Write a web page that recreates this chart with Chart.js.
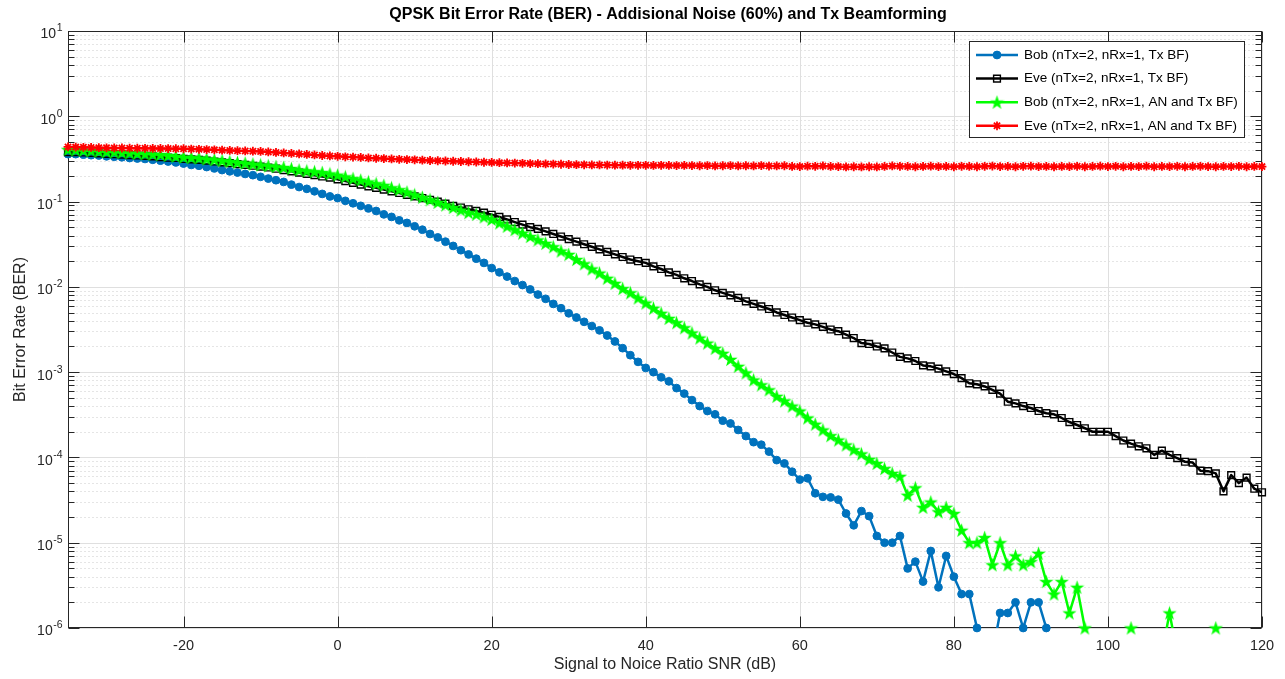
<!DOCTYPE html>
<html>
<head>
<meta charset="utf-8">
<title>QPSK BER</title>
<script src="https://cdn.jsdelivr.net/npm/chart.js@4.4.0/dist/chart.umd.min.js"></script>
<style>
  html, body { margin: 0; padding: 0; background: #fff; }
  #wrap { width: 1285px; height: 679px; }
</style>
</head>
<body>
<div id="wrap"><canvas id="berChart" width="1285" height="679"></canvas></div>
<script>
// SNR axis (dB), one point per dB
const snr = [
  -35, -34, -33, -32, -31, -30, -29, -28, -27, -26,
  -25, -24, -23, -22, -21, -20, -19, -18, -17, -16,
  -15, -14, -13, -12, -11, -10, -9, -8, -7, -6,
  -5, -4, -3, -2, -1, 0, 1, 2, 3, 4,
  5, 6, 7, 8, 9, 10, 11, 12, 13, 14,
  15, 16, 17, 18, 19, 20, 21, 22, 23, 24,
  25, 26, 27, 28, 29, 30, 31, 32, 33, 34,
  35, 36, 37, 38, 39, 40, 41, 42, 43, 44,
  45, 46, 47, 48, 49, 50, 51, 52, 53, 54,
  55, 56, 57, 58, 59, 60, 61, 62, 63, 64,
  65, 66, 67, 68, 69, 70, 71, 72, 73, 74,
  75, 76, 77, 78, 79, 80, 81, 82, 83, 84,
  85, 86, 87, 88, 89, 90, 91, 92, 93, 94,
  95, 96, 97, 98, 99, 100, 101, 102, 103, 104,
  105, 106, 107, 108, 109, 110, 111, 112, 113, 114,
  115, 116, 117, 118, 119, 120
];

// Bob, Tx beamforming only
const berBobBF = [
  0.36, 0.36, 0.355, 0.35, 0.347, 0.339, 0.335, 0.331, 0.324, 0.32,
  0.316, 0.309, 0.302, 0.295, 0.288, 0.279, 0.269, 0.263, 0.254, 0.245,
  0.234, 0.226, 0.219, 0.211, 0.204, 0.195, 0.186, 0.178, 0.17, 0.158,
  0.148, 0.141, 0.132, 0.123, 0.115, 0.11, 0.102, 0.0955, 0.0891, 0.0832,
  0.0776, 0.0708, 0.0661, 0.0603, 0.0562, 0.0513, 0.0468, 0.0417, 0.038, 0.0339,
  0.0302, 0.0269, 0.024, 0.0214, 0.0191, 0.0166, 0.0148, 0.0132, 0.0117, 0.0105,
  0.00933, 0.00813, 0.00724, 0.00631, 0.00562, 0.0049, 0.00437, 0.00389, 0.00347, 0.00309,
  0.00269, 0.00229, 0.00191, 0.00158, 0.00132, 0.00112, 0.001, 0.00087, 0.00078, 0.00065,
  5.6e-4, 4.7e-4, 4.0e-4, 3.5e-4, 3.2e-4, 2.7e-4, 2.5e-4, 2.1e-4, 1.78e-4, 1.51e-4,
  1.41e-4, 1.17e-4, 9.3e-5, 8.5e-5, 6.8e-5, 5.5e-5, 5.7e-5, 3.8e-5, 3.45e-5, 3.4e-5,
  3.2e-5, 2.2e-5, 1.6e-5, 2.35e-5, 2.05e-5, 1.2e-5, 1.0e-5, 1.0e-5, 1.2e-5, 5.0e-6,
  6.0e-6, 3.5e-6, 8.0e-6, 3.0e-6, 7.0e-6, 4.0e-6, 2.5e-6, 2.5e-6, 1.0e-6, 5e-7,
  5e-7, 1.5e-6, 1.5e-6, 2e-6, 1e-6, 2e-6, 2e-6, 1e-6, null, null,
  null, null, null, null, null, null, null, null, null, null,
  null, null, null, null, null, null, null, null, null, null,
  null, null, null, null, null, null
];

// Eve, Tx beamforming only
const berEveBF = [
  0.38, 0.38, 0.376, 0.372, 0.367, 0.363, 0.359, 0.355, 0.351, 0.347,
  0.343, 0.339, 0.331, 0.327, 0.324, 0.316, 0.313, 0.309, 0.302, 0.295,
  0.288, 0.282, 0.275, 0.269, 0.263, 0.257, 0.251, 0.243, 0.234, 0.226,
  0.219, 0.211, 0.204, 0.197, 0.191, 0.182, 0.174, 0.166, 0.158, 0.151,
  0.145, 0.138, 0.132, 0.126, 0.12, 0.115, 0.11, 0.105, 0.1, 0.0944,
  0.0891, 0.0851, 0.0813, 0.0776, 0.0741, 0.07, 0.0661, 0.0617, 0.0575, 0.0537,
  0.0501, 0.0479, 0.0447, 0.0417, 0.0389, 0.0363, 0.0339, 0.0316, 0.0295, 0.0275,
  0.0257, 0.024, 0.0224, 0.0209, 0.02, 0.0191, 0.0174, 0.0162, 0.0148, 0.0138,
  0.0126, 0.0117, 0.0107, 0.01, 0.00912, 0.00851, 0.00794, 0.00741, 0.00676, 0.00631,
  0.00589, 0.0055, 0.00501, 0.00468, 0.00437, 0.00407, 0.0038, 0.00363, 0.00339, 0.00316,
  0.00302, 0.00275, 0.00251, 0.00219, 0.00214, 0.002, 0.0019, 0.0017, 0.00151, 0.00145,
  0.00135, 0.0012, 0.00117, 0.0011, 0.00102, 0.00095, 0.00085, 0.00074, 0.00072, 0.00068,
  0.00062, 0.00056, 0.00045, 0.00043, 0.0004, 0.00038, 0.00035, 0.00033, 0.00032, 0.00029,
  0.00026, 0.00024, 0.00022, 0.0002, 0.0002, 0.0002, 0.000178, 0.000158, 0.000145, 0.000135,
  0.000128, 0.000107, 0.00012, 0.000107, 0.000098, 0.000089, 0.000087, 0.00007, 0.000069, 0.000065,
  0.00004, 0.000062, 0.00005, 0.000058, 0.000043, 0.000039
];

// Bob, artificial noise + Tx beamforming
const berBobAN = [
  0.407, 0.403, 0.398, 0.394, 0.389, 0.385, 0.38, 0.376, 0.372, 0.367,
  0.363, 0.359, 0.355, 0.347, 0.339, 0.331, 0.327, 0.324, 0.316, 0.309,
  0.302, 0.295, 0.288, 0.282, 0.275, 0.269, 0.263, 0.257, 0.251, 0.243,
  0.234, 0.229, 0.224, 0.219, 0.211, 0.204, 0.195, 0.186, 0.178, 0.17,
  0.162, 0.155, 0.145, 0.138, 0.129, 0.12, 0.112, 0.105, 0.0977, 0.0912,
  0.0851, 0.0794, 0.0741, 0.0708, 0.0661, 0.0617, 0.0562, 0.0513, 0.0468, 0.0427,
  0.0389, 0.0355, 0.0324, 0.0295, 0.0263, 0.024, 0.0209, 0.0186, 0.0162, 0.0145,
  0.0126, 0.011, 0.00955, 0.00851, 0.00741, 0.00646, 0.00562, 0.0049, 0.00427, 0.0038,
  0.00331, 0.00288, 0.00251, 0.00219, 0.0019, 0.00166, 0.00141, 0.00117, 0.00098, 0.00081,
  0.00071, 0.00062, 0.00052, 0.00046, 0.0004, 0.00035, 0.00029, 0.000245, 0.00021, 0.00018,
  0.00016, 0.00014, 0.000123, 0.00011, 0.000095, 0.000085, 0.000074, 0.000065, 0.00006, 0.000036,
  0.000044, 0.000026, 0.00003, 0.000023, 0.000026, 0.000022, 0.000014, 0.00001, 0.00001, 0.0000115,
  0.0000055, 0.00001, 0.0000055, 0.000007, 0.0000055, 0.000006, 0.0000075, 0.0000035, 0.0000025, 0.0000035,
  0.0000015, 0.000003, 0.000001, null, null, null, null, null, 0.000001, null,
  null, null, 5e-7, 0.0000015, 5e-7, null, null, null, null, 0.000001,
  null, null, null, null, null, null
];

// Eve, artificial noise + Tx beamforming
const berEveAN = [
  0.437, 0.435, 0.433, 0.431, 0.429, 0.427, 0.426, 0.425, 0.423, 0.422,
  0.421, 0.42, 0.419, 0.418, 0.417, 0.416, 0.413, 0.41, 0.407, 0.404,
  0.401, 0.398, 0.395, 0.392, 0.39, 0.387, 0.382, 0.377, 0.372, 0.367,
  0.362, 0.357, 0.352, 0.347, 0.343, 0.339, 0.335, 0.332, 0.329, 0.325,
  0.322, 0.319, 0.316, 0.313, 0.311, 0.309, 0.306, 0.303, 0.301, 0.299,
  0.297, 0.295, 0.293, 0.291, 0.289, 0.288, 0.286, 0.284, 0.283, 0.281,
  0.279, 0.278, 0.276, 0.275, 0.274, 0.272, 0.271, 0.27, 0.269, 0.269,
  0.268, 0.267, 0.267, 0.266, 0.266, 0.266, 0.265, 0.266, 0.265, 0.264,
  0.265, 0.264, 0.263, 0.264, 0.262, 0.263, 0.264, 0.262, 0.263, 0.262,
  0.264, 0.261, 0.262, 0.263, 0.258, 0.257, 0.26, 0.259, 0.262, 0.258,
  0.257, 0.255, 0.256, 0.255, 0.256, 0.255, 0.258, 0.262, 0.259, 0.258,
  0.256, 0.258, 0.26, 0.257, 0.258, 0.256, 0.259, 0.258, 0.256, 0.259,
  0.261, 0.257, 0.258, 0.256, 0.259, 0.26, 0.257, 0.258, 0.256, 0.258,
  0.257, 0.259, 0.256, 0.258, 0.26, 0.257, 0.259, 0.256, 0.258, 0.257,
  0.26, 0.256, 0.258, 0.257, 0.259, 0.256, 0.258, 0.259, 0.257, 0.256,
  0.258, 0.257, 0.259, 0.256, 0.258, 0.257
];

const seriesNames = [
  'Bob (nTx=2, nRx=1, Tx BF)',
  'Eve (nTx=2, nRx=1, Tx BF)',
  'Bob (nTx=2, nRx=1, AN and Tx BF)',
  'Eve (nTx=2, nRx=1, AN and Tx BF)'
];

const xTicks = [-20, 0, 20, 40, 60, 80, 100, 120];
const yTicks = [1e-6, 1e-5, 1e-4, 1e-3, 1e-2, 1e-1, 1e0, 1e1];
const yTickExp = ['-6', '-5', '-4', '-3', '-2', '-1', '0', '1'];

const FONT = '"Liberation Sans", Arial, Helvetica, sans-serif';
const AXIS_COLOR = '#262626';

// filled five-point star, used as the marker for Bob with AN
function pentagram(size, color) {
  const c = document.createElement('canvas');
  c.width = size;
  c.height = size;
  const g = c.getContext('2d');
  const R = size / 2, r = R * 0.4;
  g.beginPath();
  for (let i = 0; i < 10; i++) {
    const rad = i % 2 === 0 ? R : r;
    const a = -Math.PI / 2 + i * Math.PI / 5;
    g.lineTo(R + rad * Math.cos(a), R + 0.6 + rad * Math.sin(a));
  }
  g.closePath();
  g.fillStyle = color;
  g.fill();
  return c;
}

const styles = [
  { color: '#0072BD', pointStyle: 'circle', radius: 3.9, fill: '#0072BD', border: 1 },
  { color: '#000000', pointStyle: 'rect', radius: 4.8, fill: 'rgba(0,0,0,0)', border: 1.4 },
  { color: '#00FF00', pointStyle: pentagram(15, '#00FF00'), radius: 7, fill: '#00FF00', border: 0 },
  { color: '#FF0000', pointStyle: 'star', radius: 4.4, fill: '#FF0000', border: 1.8 }
];
const seriesData = [berBobBF, berEveBF, berBobAN, berEveAN];

// minor log ticks (2..9 in each decade)
const yMinor = [];
yTicks.slice(0, -1).forEach(d => {
  for (let m = 2; m <= 9; m++) yMinor.push(d * m);
});

const datasets = [];
seriesData.forEach((data, i) => {
  const s = styles[i];
  // the line, clipped to the axes
  datasets.push({
    label: seriesNames[i],
    data: data,
    borderColor: s.color,
    borderWidth: 2.5,
    borderJoinStyle: 'round',
    pointRadius: 0,
    pointHoverRadius: 0,
    fill: false,
    tension: 0,
    spanGaps: false,
    order: 8 - i * 2
  });
  // markers, left unclipped so points sitting on the bottom edge stay whole
  datasets.push({
    label: seriesNames[i] + ' markers',
    data: data.map(v => (v !== null && v >= yTicks[0]) ? v : null),
    showLine: false,
    clip: false,
    pointStyle: s.pointStyle,
    pointRadius: s.radius,
    pointHoverRadius: s.radius,
    pointBackgroundColor: s.fill,
    pointBorderColor: s.color,
    pointBorderWidth: s.border,
    order: 7 - i * 2
  });
});

function hline(ctx, x1, x2, y) {
  ctx.beginPath(); ctx.moveTo(x1, y); ctx.lineTo(x2, y); ctx.stroke();
}
function vline(ctx, x, y1, y2) {
  ctx.beginPath(); ctx.moveTo(x, y1); ctx.lineTo(x, y2); ctx.stroke();
}

// grid, box, inward ticks, log labels, title and legend in MATLAB style
const matlabAxes = {
  id: 'matlabAxes',
  beforeDatasetsDraw(chart) {
    const { ctx, chartArea: a, scales: { x, y } } = chart;
    const L = a.left + 0.5, R = a.right - 0.5, T = a.top + 0.5, B = a.bottom - 0.5;
    ctx.save();
    ctx.lineWidth = 1;

    ctx.strokeStyle = '#cbcbcb';
    ctx.setLineDash([1, 3]);
    yMinor.forEach(v => hline(ctx, L, R, Math.round(y.getPixelForValue(v)) + 0.5));
    ctx.setLineDash([]);

    ctx.strokeStyle = '#dfdfdf';
    yTicks.forEach(v => hline(ctx, L, R, Math.round(y.getPixelForValue(v)) + 0.5));
    xTicks.forEach(v => vline(ctx, Math.round(x.getPixelForValue(v)) + 0.5, T, B));

    ctx.strokeStyle = AXIS_COLOR;
    ctx.strokeRect(L, T, R - L, B - T);

    const major = 11, minor = 6;
    xTicks.forEach(v => {
      const px = Math.round(x.getPixelForValue(v)) + 0.5;
      vline(ctx, px, B, B - major);
      vline(ctx, px, T, T + major);
    });
    yTicks.forEach(v => {
      const py = Math.round(y.getPixelForValue(v)) + 0.5;
      hline(ctx, L, L + major, py);
      hline(ctx, R, R - major, py);
    });
    yMinor.forEach(v => {
      const py = Math.round(y.getPixelForValue(v)) + 0.5;
      hline(ctx, L, L + minor, py);
      hline(ctx, R, R - minor, py);
    });

    // 10^n labels
    ctx.fillStyle = AXIS_COLOR;
    ctx.textBaseline = 'middle';
    ctx.textAlign = 'left';
    yTicks.forEach((v, i) => {
      const py = y.getPixelForValue(v);
      ctx.font = '14px ' + FONT;
      const wBase = ctx.measureText('10').width;
      ctx.font = '10.5px ' + FONT;
      const wExp = ctx.measureText(yTickExp[i]).width;
      const x0 = a.left - 6 - wBase - wExp;
      ctx.font = '14px ' + FONT;
      ctx.fillText('10', x0, py + 3.5);
      ctx.font = '10.5px ' + FONT;
      ctx.fillText(yTickExp[i], x0 + wBase + 0.5, py - 2.5);
    });

    // title
    ctx.fillStyle = '#000';
    ctx.textAlign = 'center';
    ctx.font = 'bold 16px ' + FONT;
    ctx.fillText('QPSK Bit Error Rate (BER) - Addisional Noise (60%) and Tx Beamforming', (a.left + a.right) / 2 + 3, 15);
    ctx.restore();
  },
  afterDraw(chart) {
    const { ctx, chartArea: a } = chart;
    const box = { left: a.right - 293, top: a.top + 10, w: 275, h: 96 };
    ctx.save();
    ctx.fillStyle = '#fff';
    ctx.fillRect(box.left, box.top, box.w, box.h);
    ctx.strokeStyle = AXIS_COLOR;
    ctx.lineWidth = 1;
    ctx.strokeRect(Math.round(box.left) + 0.5, Math.round(box.top) + 0.5, box.w, box.h);

    seriesNames.forEach((name, i) => {
      const s = styles[i];
      const cy = box.top + 14 + i * 23.6;
      const x1 = box.left + 7, x2 = box.left + 49, mx = (x1 + x2) / 2;
      ctx.strokeStyle = s.color;
      ctx.lineWidth = 2.5;
      hline(ctx, x1, x2, cy);
      ctx.fillStyle = s.fill;
      ctx.strokeStyle = s.color;
      ctx.lineWidth = s.border;
      Chart.helpers.drawPoint(ctx, { pointStyle: s.pointStyle, radius: s.radius, borderWidth: s.border, rotation: 0 }, mx, cy);
      ctx.fillStyle = '#000';
      ctx.font = '13.5px ' + FONT;
      ctx.textAlign = 'left';
      ctx.textBaseline = 'middle';
      ctx.fillText(name, box.left + 55, cy);
    });
    ctx.restore();
  }
};

new Chart(document.getElementById('berChart'), {
  type: 'line',
  data: { labels: snr, datasets: datasets },
  options: {
    responsive: false,
    animation: false,
    devicePixelRatio: 1,
    events: [],
    layout: { padding: { top: 31, right: 23, left: 0, bottom: 0 } },
    plugins: { legend: { display: false }, tooltip: { enabled: false }, title: { display: false } },
    scales: {
      x: {
        type: 'linear',
        min: -35,
        max: 120,
        afterBuildTicks: axis => { axis.ticks = xTicks.map(v => ({ value: v })); },
        afterFit: axis => { axis.height = 51; },
        grid: { display: false, drawTicks: false },
        border: { display: false },
        ticks: { color: AXIS_COLOR, font: { family: FONT, size: 14.5 }, padding: 9, maxRotation: 0, callback: v => String(v) },
        title: { display: true, text: 'Signal to Noice Ratio SNR (dB)', color: AXIS_COLOR, font: { family: FONT, size: 16 }, padding: { top: 0, bottom: 4.5 } }
      },
      y: {
        type: 'logarithmic',
        min: 1e-6,
        max: 10,
        afterBuildTicks: axis => { axis.ticks = yTicks.map(v => ({ value: v })); },
        afterFit: axis => { axis.width = 68; },
        grid: { display: false, drawTicks: false },
        border: { display: false },
        ticks: { display: false },
        title: { display: true, text: 'Bit Error Rate (BER)', color: AXIS_COLOR, font: { family: FONT, size: 16 }, padding: { top: 10.5, bottom: 0 } }
      }
    }
  },
  plugins: [matlabAxes]
});
</script>
</body>
</html>
